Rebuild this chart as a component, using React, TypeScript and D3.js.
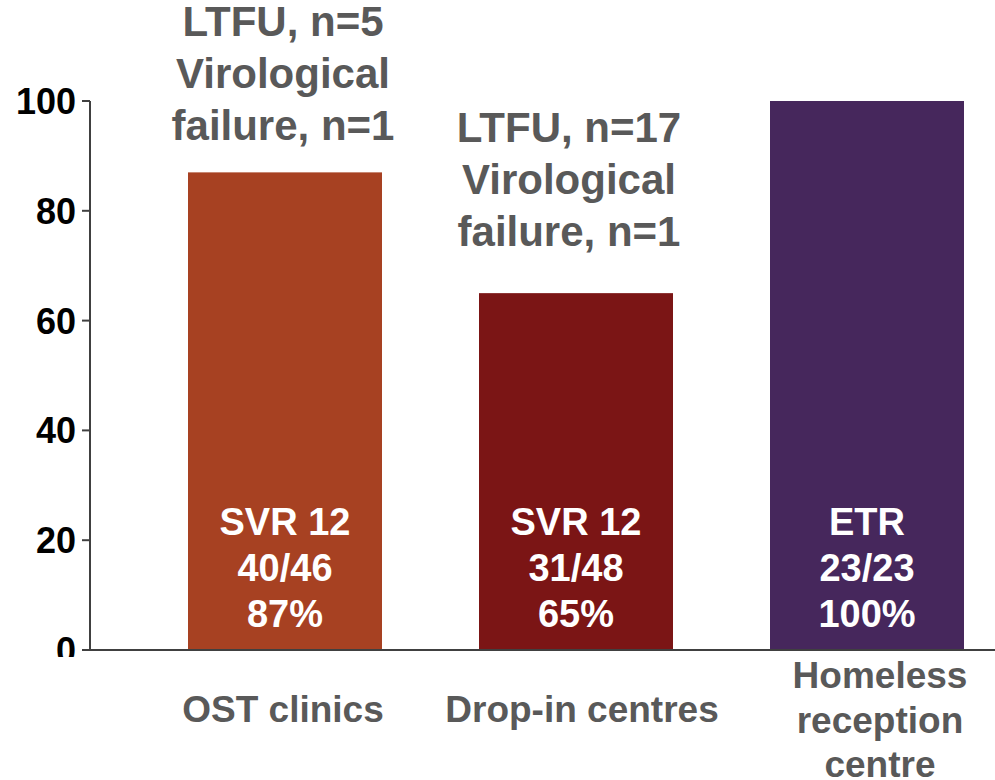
import React from 'react'
import * as d3 from 'd3'

// data
const categories = ['OST clinics', 'Drop-in centres', 'Homeless reception centre']
const categoryLines = [['OST clinics'], ['Drop-in centres'], ['Homeless', 'reception', 'centre']]
const values = [87, 65, 100]
const barLabels = [
  ['SVR 12', '40/46', '87%'],
  ['SVR 12', '31/48', '65%'],
  ['ETR', '23/23', '100%'],
]
const annotations = [
  ['LTFU, n=5', 'Virological', 'failure, n=1'],
  ['LTFU, n=17', 'Virological', 'failure, n=1'],
  [],
]
const yTicks = [0, 20, 40, 60, 80, 100]
const colors = ['#A74122', '#7B1515', '#46275C']

const W = 995
const H = 780
const FONT = '"Liberation Sans", Arial, sans-serif'
const GREY = '#595959'
const AXIS = '#404040'

// text nudges relative to bar centres (layout only)
const labelNudge = [-2, 6, 13]
const annotNudge = [-2, -7, 0]
const annotFirstBaseline = [36, 142, 0]

export default function App() {
  const x = d3.scaleBand<string>().domain(categories).range([188, 964]).paddingInner(1 / 3).paddingOuter(0)
  const y = d3.scaleLinear().domain([0, 100]).range([650, 101])
  const axisX = 90

  return (
    <div style={{ position: 'absolute', left: 0, top: 0 }}>
      <svg width={W} height={H} style={{ display: 'block', fontFamily: FONT, fontWeight: 'bold' }}>
        <defs>
          <clipPath id="tickClip">
            <rect x={0} y={0} width={W} height={657} />
          </clipPath>
        </defs>

        {/* bars */}
        {categories.map((c, i) => (
          <rect
            key={c}
            x={x(c)}
            y={y(values[i])}
            width={x.bandwidth()}
            height={y(0) - y(values[i])}
            fill={colors[i]}
          />
        ))}

        {/* axes */}
        <line x1={axisX} x2={axisX} y1={y(100)} y2={y(0)} stroke={AXIS} strokeWidth={2} />
        <line x1={axisX - 8} x2={W} y1={y(0)} y2={y(0)} stroke={AXIS} strokeWidth={2} />
        <g clipPath="url(#tickClip)">
          {yTicks.map((t) => (
            <g key={t}>
              <line x1={axisX - 8} x2={axisX} y1={y(t)} y2={y(t)} stroke={AXIS} strokeWidth={2} />
              <text
                x={axisX - 14}
                y={y(t)}
                dy="0.36em"
                textAnchor="end"
                fontSize={36}
                fill="#000"
              >
                {t}
              </text>
            </g>
          ))}
        </g>

        {/* labels inside bars */}
        {categories.map((c, i) => {
          const cx = (x(c) ?? 0) + x.bandwidth() / 2
          return (
            <text key={c + '-in'} textAnchor="middle" fontSize={38} fill="#fff">
              {barLabels[i].map((l, k) => (
                <tspan key={k} x={cx} y={y(0) - 23 - (barLabels[i].length - 1 - k) * 46}>
                  {l}
                </tspan>
              ))}
            </text>
          )
        })}

        {/* annotations above bars */}
        {categories.map((c, i) => {
          const cx = (x(c) ?? 0) + x.bandwidth() / 2 + annotNudge[i]
          return (
            <text key={c + '-ann'} textAnchor="middle" fontSize={42} fill={GREY}>
              {annotations[i].map((l, k) => (
                <tspan key={k} x={cx} y={annotFirstBaseline[i] + k * 52}>
                  {l}
                </tspan>
              ))}
            </text>
          )
        })}

        {/* category labels */}
        {categories.map((c, i) => {
          const cx = (x(c) ?? 0) + x.bandwidth() / 2 + labelNudge[i]
          const lines = categoryLines[i]
          const first = lines.length === 1 ? 722 : 688
          return (
            <text key={c + '-cat'} textAnchor="middle" fontSize={37} fill={GREY}>
              {lines.map((l, k) => (
                <tspan key={k} x={cx} y={first + k * 44.5}>
                  {l}
                </tspan>
              ))}
            </text>
          )
        })}
      </svg>
    </div>
  )
}
